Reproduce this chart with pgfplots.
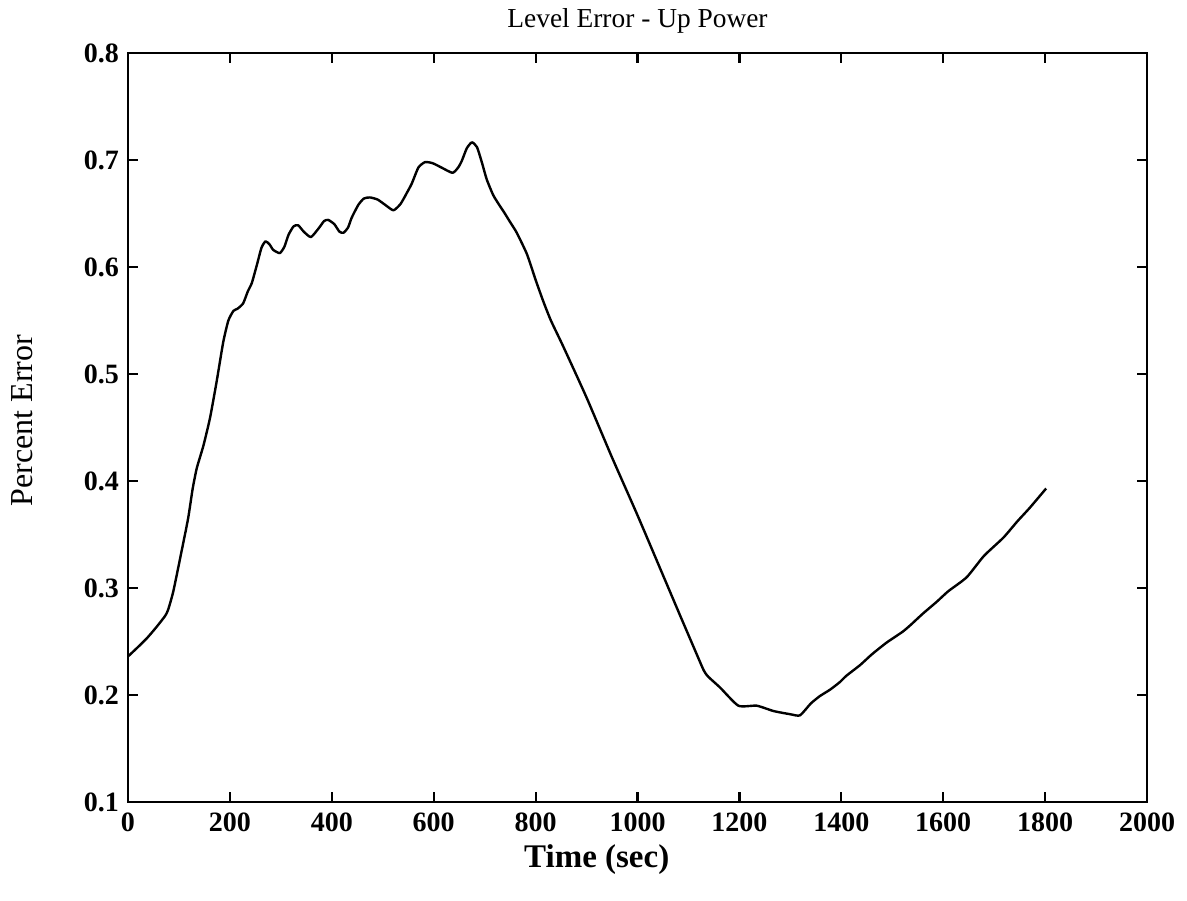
\documentclass[border=0pt]{standalone}
\usepackage{fontspec}
\setmainfont{Liberation Serif}
\usepackage{pgfplots}
\pgfplotsset{compat=1.18}
\begin{document}
\begin{tikzpicture}
\begin{axis}[
  scale only axis,
  width=509.5pt, height=374.5pt,
  xmin=0, xmax=2000, ymin=0.1, ymax=0.8,
  xtick={0,200,...,2000},
  ytick={0.1,0.2,...,0.8},
  tick align=inside,
  major tick length=5pt,
  axis line style={line width=1.1pt},
  every tick/.style={line width=1.1pt, black},
  /pgf/number format/assume math mode=true,
  xticklabel style={font=\bfseries\fontsize{14}{14}\selectfont, yshift=-2pt},
  yticklabel style={font=\bfseries\fontsize{14}{14}\selectfont, xshift=-1pt,
    /pgf/number format/.cd, fixed, fixed zerofill, precision=1},
  scaled ticks=false,
  xticklabel style={/pgf/number format/1000 sep={}},
  every axis title shift=0pt,
  title={Level Error - Up Power},
  title style={font=\fontsize{13.7}{13.7}\selectfont, at={(axis description cs:0.5,1.0334)}, anchor=base, yshift=0pt},
  xlabel={Time (sec)},
  xlabel style={font=\bfseries\fontsize{16.5}{16.5}\selectfont, at={(axis description cs:0.460,-0.0868)}, anchor=base},
  ylabel={Percent Error},
  ylabel style={font=\fontsize{16}{16}\selectfont, at={(axis description cs:-0.104,0.509)}, anchor=center},
  clip=false,
]
\addplot[black, line width=1.2pt, line join=round, mark=none, smooth, tension=0.35] coordinates {
(0,0.236) (20,0.245) (37,0.253) (55,0.263) (73,0.274) (79,0.280) (89,0.297)
(105,0.334) (118,0.365) (127,0.393) (135,0.412) (148,0.433) (161,0.459)
(174,0.493) (187,0.530) (197,0.550) (207,0.559) (215,0.561) (226,0.566)
(235,0.577) (243,0.585) (253,0.602) (262,0.618) (270,0.624) (278,0.621)
(285,0.616) (298,0.613) (307,0.619) (315,0.630) (325,0.638) (334,0.639)
(345,0.633) (359,0.628) (374,0.636) (385,0.643) (393,0.644) (405,0.640)
(415,0.633) (423,0.632) (432,0.637) (439,0.646) (452,0.658) (463,0.664)
(475,0.665) (490,0.663) (505,0.658) (521,0.653) (535,0.659) (547,0.669)
(557,0.678) (570,0.693) (583,0.698) (598,0.697) (615,0.693) (637,0.688)
(648,0.693) (655,0.699) (665,0.711) (675,0.7165) (685,0.712) (695,0.697)
(704,0.682) (717,0.667) (730,0.657) (737,0.652) (750,0.642) (763,0.632)
(783,0.612) (800,0.588) (815,0.568) (830,0.550) (854,0.526) (900,0.478)
(950,0.422) (1000,0.368) (1050,0.312) (1083,0.275) (1110,0.245) (1130,0.223)
(1139,0.217) (1162,0.207) (1198,0.190) (1234,0.190) (1267,0.185) (1300,0.182)
(1319,0.181) (1340,0.192) (1358,0.199) (1378,0.205) (1397,0.212) (1410,0.218)
(1437,0.228) (1460,0.238) (1489,0.249) (1520,0.259) (1535,0.265) (1560,0.276)
(1587,0.287) (1610,0.297) (1646,0.310) (1680,0.330) (1718,0.347) (1745,0.362)
(1770,0.375) (1802,0.393)
};
\coordinate (bl) at (rel axis cs:0,0);
\coordinate (tr) at (rel axis cs:1,1);
\end{axis}
\pgfresetboundingbox
\useasboundingbox ([xshift=-64pt,yshift=-49.5pt]bl) rectangle ([xshift=20pt,yshift=26.5pt]tr);
\end{tikzpicture}
\end{document}
